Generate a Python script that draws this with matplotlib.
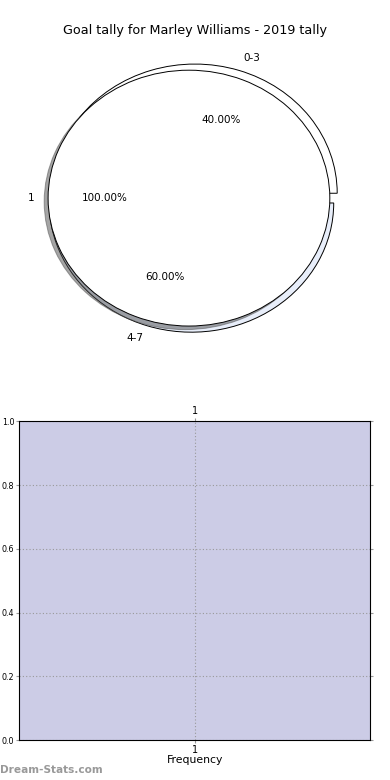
import matplotlib
matplotlib.use('Agg')
import matplotlib.pyplot as plt
import numpy as np

# data
player = 'Marley Williams'
season = '2019'
games_labels = ['1']
games_values = [1]
goal_labels = ['0-3', '4-7']
goal_values = [40, 60]
freq_ticks = [1]
freq_values = [0]

fig = plt.figure(figsize=(3.9, 7.8), dpi=100)

# top: pie chart
ax1 = fig.add_axes([0.033, 0.541, 0.903, 0.41])
wedges, texts, autotexts = ax1.pie(
    goal_values, labels=goal_labels, autopct='%1.2f%%',
    colors=['white', '#e8eefa'], explode=[0.04, 0.04], radius=1.01,
    center=(0.03, 0),
    wedgeprops={'edgecolor': 'black', 'linewidth': 0.7},
    textprops={'fontsize': 7.5})
for w in wedges:
    w.set_zorder(0.5)
ax1.pie(games_values, labels=games_labels, autopct='%1.2f%%',
        colors=['white'], shadow=True,
        wedgeprops={'edgecolor': 'black', 'linewidth': 0.7},
        textprops={'fontsize': 7.5})
ax1.set_aspect('auto')
ax1.set_xlim(-1.25, 1.25)
ax1.set_ylim(-1.25, 1.25)
fig.text(0.5, 0.961, 'Goal tally for %s - %s tally' % (player, season),
         ha='center', va='center', fontsize=9.2)

# bottom: frequency axes
ax2 = fig.add_axes([0.049, 0.051, 0.9, 0.409])
ax2.set_facecolor('#ccccE6')
ax2.bar(freq_ticks, freq_values, color='#8888cc')
ax2.set_xlim(0.5, 1.5)
ax2.set_ylim(0, 1)
ax2.set_xticks(freq_ticks)
ax2.set_xticklabels([str(t) for t in freq_ticks])
ax2.set_yticks(np.arange(0, 1.01, 0.2))
ax2.tick_params(axis='both', labelsize=5.8, length=2, pad=1.5,
                color='#999999', top=True, right=True, labeltop=True)
ax2.tick_params(axis='x', labelsize=7)
ax2.grid(True, linestyle=(0, (1, 2)), color='#999999', linewidth=0.8)
ax2.set_xlabel('Frequency', fontsize=7.8, labelpad=0)

fig.text(0.0, 0.013, 'Dream-Stats.com', fontsize=7.6, color='#999999',
         fontweight='bold', ha='left', va='center')

fig.savefig('out.png', dpi=100)
